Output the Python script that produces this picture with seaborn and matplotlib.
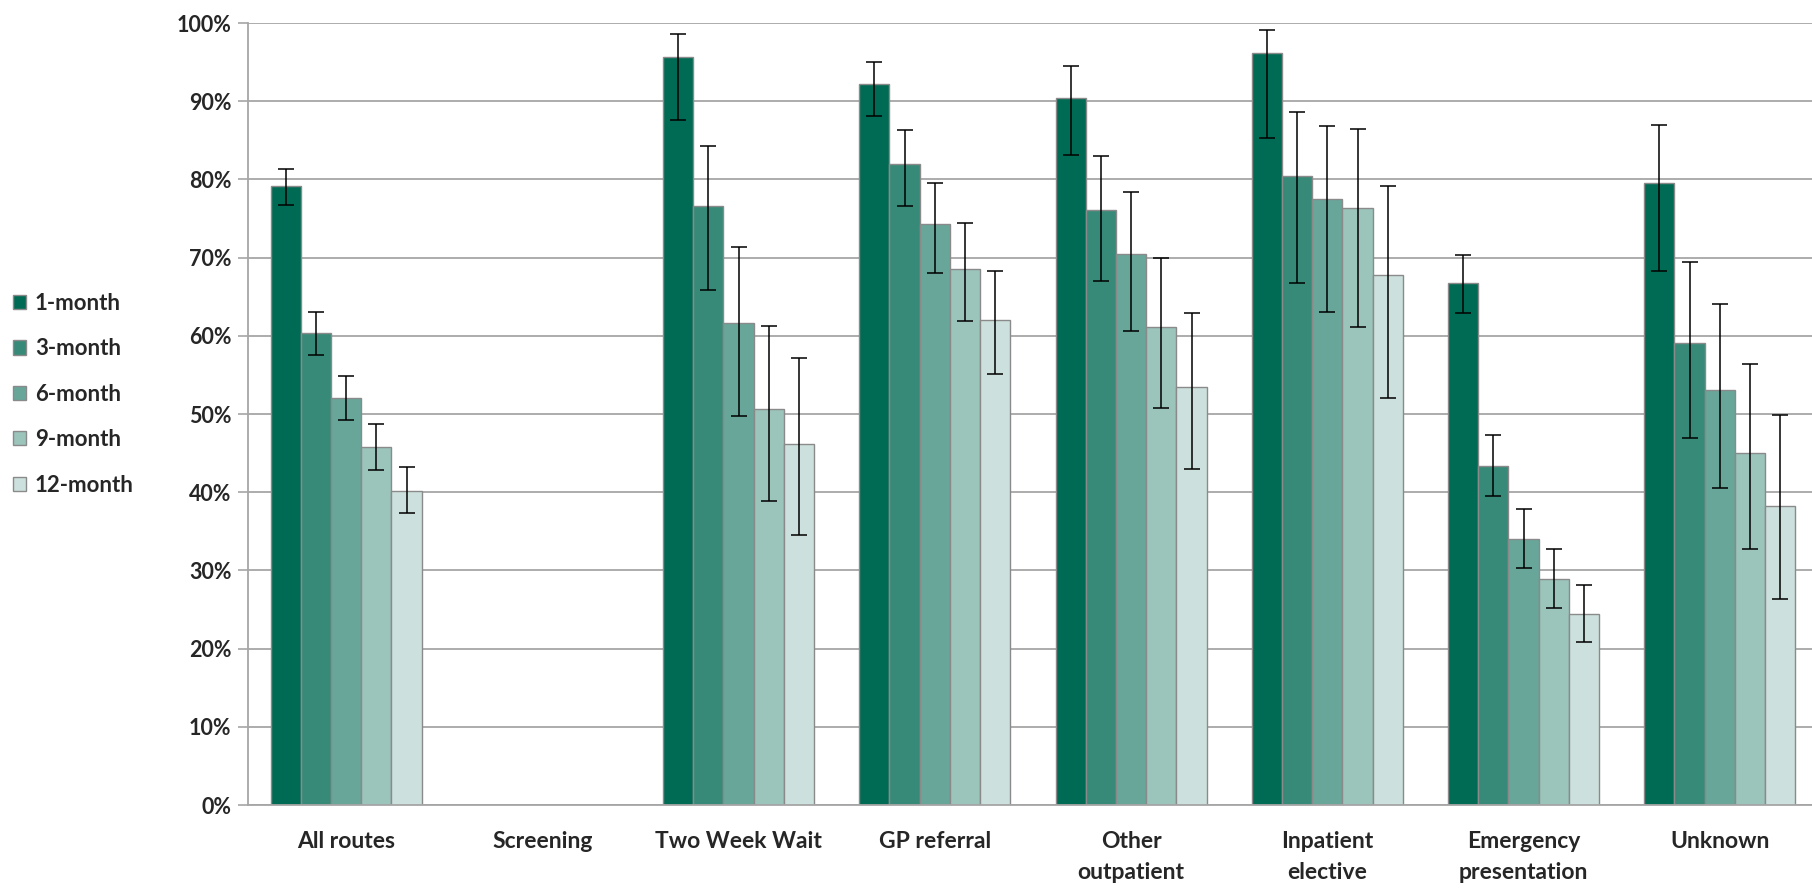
"""
Grouped bar chart: survival by route to diagnosis, with confidence intervals
"""

import numpy as np
import pandas as pd
import matplotlib
matplotlib.use("Agg")
import matplotlib.pyplot as plt
import seaborn as sns
from matplotlib.patches import Patch
from matplotlib.container import BarContainer

# Data (percent)
routes = ["All routes", "Screening", "Two Week Wait", "GP referral",
          "Other\noutpatient", "Inpatient\nelective", "Emergency\npresentation", "Unknown"]
periods = ["1-month", "3-month", "6-month", "9-month", "12-month"]

one_month = [79.2, np.nan, 95.7, 92.2, 90.4, 96.1, 66.8, 79.5]
three_month = [60.3, np.nan, 76.6, 82.0, 76.1, 80.4, 43.4, 59.1]
six_month = [52.0, np.nan, 61.6, 74.3, 70.5, 77.5, 34.0, 53.1]
nine_month = [45.8, np.nan, 50.6, 68.6, 61.1, 76.4, 28.9, 45.0]
twelve_month = [40.2, np.nan, 46.2, 62.0, 53.5, 67.8, 24.4, 38.2]

one_month_lo = [76.7, np.nan, 87.6, 88.1, 83.1, 85.3, 62.9, 68.3]
three_month_lo = [57.5, np.nan, 65.8, 76.6, 67.0, 66.8, 39.5, 46.9]
six_month_lo = [49.2, np.nan, 49.8, 68.0, 60.6, 63.1, 30.3, 40.5]
nine_month_lo = [42.8, np.nan, 38.9, 61.9, 50.8, 61.1, 25.2, 32.8]
twelve_month_lo = [37.3, np.nan, 34.5, 55.1, 43.0, 52.1, 20.9, 26.4]

one_month_hi = [81.3, np.nan, 98.6, 95.0, 94.5, 99.1, 70.3, 86.9]
three_month_hi = [63.1, np.nan, 84.3, 86.3, 83.0, 88.6, 47.3, 69.4]
six_month_hi = [54.8, np.nan, 71.3, 79.6, 78.4, 86.8, 37.8, 64.1]
nine_month_hi = [48.7, np.nan, 61.3, 74.4, 70.0, 86.4, 32.7, 56.4]
twelve_month_hi = [43.2, np.nan, 57.2, 68.3, 62.9, 79.2, 28.1, 49.9]

colors = ["#006B54", "#378A78", "#67A699", "#9BC4BB", "#CCE1DD"]

values = [one_month, three_month, six_month, nine_month, twelve_month]
lows = [one_month_lo, three_month_lo, six_month_lo, nine_month_lo, twelve_month_lo]
highs = [one_month_hi, three_month_hi, six_month_hi, nine_month_hi, twelve_month_hi]

rows = []
for p, vals, lo, hi in zip(periods, values, lows, highs):
    for r, v, l, h in zip(routes, vals, lo, hi):
        rows.append({"route": r, "period": p, "value": v, "lo": l, "hi": h})
df = pd.DataFrame(rows)
plot_df = df.dropna(subset=["value"])

sns.set_style("white")
plt.rcParams["font.family"] = ["Lato", "DejaVu Sans"]
plt.rcParams["font.weight"] = "bold"

fig = plt.figure(figsize=(18.12, 8.88), dpi=100)
ax = fig.add_axes([248 / 1812, 1 - 805 / 888, 1 - 248 / 1812, (805 - 23) / 888])

sns.barplot(data=plot_df, x="route", y="value", hue="period", order=routes,
            hue_order=periods, palette=colors, width=0.77, gap=0, errorbar=None,
            edgecolor="#8a8a8a", linewidth=1.0, saturation=1, legend=False, ax=ax)

# asymmetric error bars from the confidence limits
lookup = {(r, p): (lo, hi) for r, p, lo, hi in zip(df.route, df.period, df.lo, df.hi)}
bar_containers = [c for c in ax.containers if isinstance(c, BarContainer)]
for h_idx, container in enumerate(bar_containers):
    for bar in container.patches:
        cx = bar.get_x() + bar.get_width() / 2
        cat = routes[int(round(cx))]
        lo, hi = lookup[(cat, periods[h_idx])]
        if np.isnan(lo):
            continue
        v = bar.get_height()
        ax.errorbar(cx, v, yerr=[[v - lo], [hi - v]], fmt="none", ecolor="black",
                    elinewidth=1.1, capsize=5.5, capthick=1.1, zorder=5)

ax.set_ylim(0, 100)
ax.set_xlim(-0.5, 7.47)
ax.set_yticks(np.arange(0, 101, 10))
ax.set_yticklabels([f"{t}%" for t in range(0, 101, 10)], fontsize=15.5, fontweight="bold")
ax.yaxis.grid(True, color="#a6a6a6", linewidth=1.3)
ax.set_axisbelow(True)
ax.set_xlabel("")
ax.set_ylabel("")

# category labels between boundary ticks
ax.set_xticks(range(len(routes)))
ax.set_xticklabels(routes, fontsize=16.5, fontweight="bold", linespacing=1.55, va="top")
ax.tick_params(axis="x", length=0, pad=19)
ax.set_xticks(np.arange(-0.5, 7.5, 1), minor=True)
ax.tick_params(axis="x", which="minor", length=10, color="#a6a6a6", width=1.2)
ax.tick_params(axis="y", length=7, color="#a6a6a6", width=1.2, pad=5, left=True)

for side in ["top", "right"]:
    ax.spines[side].set_visible(False)
for side in ["left", "bottom"]:
    ax.spines[side].set_color("#a6a6a6")
    ax.spines[side].set_linewidth(1.3)

handles = [Patch(facecolor=c, edgecolor="#8a8a8a", linewidth=1.0) for c in colors]
fig.legend(handles, periods, loc="center left", bbox_to_anchor=(0.007, 0.556),
           frameon=False, prop={"weight": "bold", "size": 16},
           handlelength=0.6, handleheight=0.6, handletextpad=0.4,
           labelspacing=1.1, borderaxespad=0, borderpad=0)

fig.savefig("out.png", dpi=100)
plt.close(fig)
